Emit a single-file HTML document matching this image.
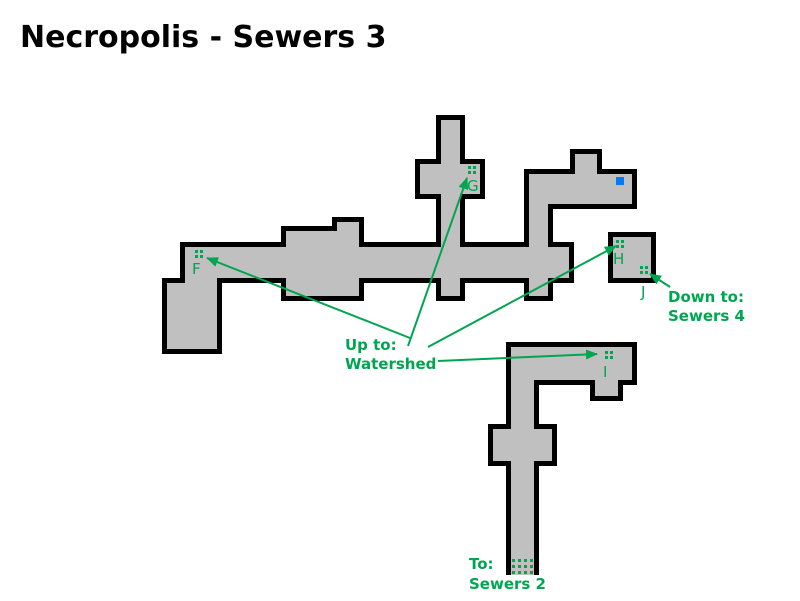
<!DOCTYPE html>
<html><head><style>body{margin:0;background:#fff;width:800px;height:601px;overflow:hidden}</style></head>
<body>
<svg width="800" height="601" xmlns="http://www.w3.org/2000/svg" style="position:absolute;left:0;top:0">
<defs>
<clipPath id="c1"><polygon points="180,242 281,242 281,226 332,226 332,217 364,217 364,242 436,242 436,199 415,199 415,159 436,159 436,115 465,115 465,159 485,159 485,199 465,199 465,242 524,242 524,169 570,169 570,149 602,149 602,169 637,169 637,209 553,209 553,242 574,242 574,283 553,283 553,301 524,301 524,283 465,283 465,301 436,301 436,283 364,283 364,301 281,301 281,283 222,283 222,354 162,354 162,278 180,278"/></clipPath>
<clipPath id="c2"><rect x="608" y="232" width="48" height="51"/></clipPath>
<clipPath id="c3"><polygon points="506,342 637,342 637,385 623,385 623,401 590,401 590,385 539,385 539,424 557,424 557,466 539,466 539,575 506,575 506,466 488,466 488,424 506,424"/></clipPath>
<marker id="a" markerWidth="12" markerHeight="10" refX="11" refY="5" orient="auto" markerUnits="userSpaceOnUse"><polygon points="0,0 12,5 0,10" fill="#00a550"/></marker>
</defs>
<g fill="#c0c0c0" stroke="#000" stroke-width="10">
<polygon clip-path="url(#c1)" points="180,242 281,242 281,226 332,226 332,217 364,217 364,242 436,242 436,199 415,199 415,159 436,159 436,115 465,115 465,159 485,159 485,199 465,199 465,242 524,242 524,169 570,169 570,149 602,149 602,169 637,169 637,209 553,209 553,242 574,242 574,283 553,283 553,301 524,301 524,283 465,283 465,301 436,301 436,283 364,283 364,301 281,301 281,283 222,283 222,354 162,354 162,278 180,278"/>
<rect clip-path="url(#c2)" x="608" y="232" width="48" height="51"/>
<polygon clip-path="url(#c3)" points="506,342 637,342 637,385 623,385 623,401 590,401 590,385 539,385 539,424 557,424 557,466 539,466 539,580 506,580 506,466 488,466 488,424 506,424"/>
</g>
<rect x="616" y="177" width="8" height="8" fill="#0a78f0"/>
<g fill="#00a550">
<rect x="195" y="250" width="3" height="3"/><rect x="200" y="250" width="3" height="3"/><rect x="195" y="255" width="3" height="3"/><rect x="200" y="255" width="3" height="3"/>
<rect x="468" y="166" width="3" height="3"/><rect x="473" y="166" width="3" height="3"/><rect x="468" y="171" width="3" height="3"/><rect x="473" y="171" width="3" height="3"/>
<rect x="616" y="240" width="3" height="3"/><rect x="621" y="240" width="3" height="3"/><rect x="616" y="245" width="3" height="3"/><rect x="621" y="245" width="3" height="3"/>
<rect x="640" y="266" width="3" height="3"/><rect x="645" y="266" width="3" height="3"/><rect x="640" y="271" width="3" height="3"/><rect x="645" y="271" width="3" height="3"/>
<rect x="605" y="351" width="3" height="3"/><rect x="610" y="351" width="3" height="3"/><rect x="605" y="356" width="3" height="3"/><rect x="610" y="356" width="3" height="3"/>
<g id="r"><rect x="512" y="559" width="3" height="3"/><rect x="518" y="559" width="3" height="3"/><rect x="524" y="559" width="3" height="3"/><rect x="530" y="559" width="3" height="3"/></g>
<use href="#r" y="6"/><use href="#r" y="12"/>
</g>
<g stroke="#00a550" stroke-width="2" fill="none" marker-end="url(#a)">
<line x1="410" y1="338" x2="207" y2="258"/>
<line x1="408" y1="346" x2="467" y2="178"/>
<line x1="428" y1="347" x2="616" y2="246"/>
<line x1="438" y1="361" x2="597" y2="354"/>
<line x1="670" y1="287" x2="650" y2="274"/>
</g>
<g font-family="DejaVu Sans, Liberation Sans, sans-serif" fill="#00a550" font-size="15">
<text x="192" y="274">F</text><text x="467" y="191">G</text><text x="613" y="264">H</text><text x="641" y="297">J</text><text x="603" y="377">I</text>
<g font-weight="bold"><text x="345" y="350">Up to:</text><text x="345" y="369">Watershed</text>
<text x="668" y="302">Down to:</text><text x="668" y="321">Sewers 4</text>
<text x="469" y="569">To:</text><text x="469" y="589">Sewers 2</text></g>
</g>
<text x="20" y="47" font-family="DejaVu Sans, Liberation Sans, sans-serif" font-weight="bold" font-size="30" fill="#000">Necropolis - Sewers 3</text>
</svg>
</body></html>
